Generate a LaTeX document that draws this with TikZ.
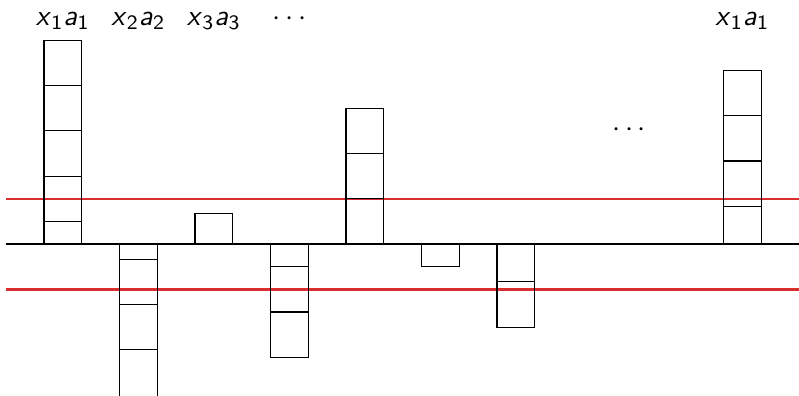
\documentclass[tikz,border=0pt]{standalone}
\usepackage{tikz}
\usetikzlibrary{positioning}
\definecolor{darkred}{RGB}{218,45,45}
\newcommand{\xa}[1]{\textit{x}\textsubscript{#1}\textit{a}\textsubscript{#1}}

\begin{document}
\begin{tikzpicture}[x=1cm, y=0.6cm,
    cell/.style={draw=black, line width=0.4pt},
    axis/.style={draw=black, line width=0.8pt},
    level/.style={draw=darkred, line width=0.9pt},
    lbl/.style={anchor=base, font=\sffamily\fontsize{11}{13}\selectfont, inner sep=0pt}
  ]
  \useasboundingbox (0,-3.333) rectangle (10.583,5.387);

  % thresholds
  \coordinate (upL) at (0.08,1);
  \coordinate (upR) at (10.7,1);
  \coordinate (loL) at (0.08,-1);
  \coordinate (loR) at (10.7,-1);
  \draw[level] (upL) -- (upR);
  \draw[level] (loL) -- (loR);

  % stacks
  \draw[cell] (0.583,0) rectangle (1.083,4.5);
  \foreach \y in {0.5,1.5,2.5,3.5} \draw[cell] (0.583,\y) -- (1.083,\y);

  \draw[cell] (1.583,0) rectangle (2.083,-3.6);
  \foreach \y in {-0.333,-1.333,-2.333} \draw[cell] (1.583,\y) -- (2.083,\y);

  \draw[cell] (2.583,0) rectangle (3.083,0.667);

  \draw[cell] (3.583,0) rectangle (4.083,-2.5);
  \foreach \y in {-0.5,-1.5} \draw[cell] (3.583,\y) -- (4.083,\y);

  \draw[cell] (4.583,0) rectangle (5.083,3);
  \foreach \y in {1,2} \draw[cell] (4.583,\y) -- (5.083,\y);

  \draw[cell] (5.583,0) rectangle (6.083,-0.5);

  \draw[cell] (6.583,0) rectangle (7.083,-1.833);
  \draw[cell] (6.583,-0.833) -- (7.083,-0.833);

  \draw[cell] (9.583,0) rectangle (10.083,3.833);
  \foreach \y in {0.833,1.833,2.833} \draw[cell] (9.583,\y) -- (10.083,\y);

  % zero line
  \coordinate (zL) at (0.08,0);
  \coordinate (zR) at (10.7,0);
  \draw[axis] (zL) -- (zR);

  % labels
  \node[lbl] (l1) at (0.833,4.83) {\xa{1}};
  \node[lbl] (l2) at (1.833,4.83) {\xa{2}};
  \node[lbl] (l3) at (2.833,4.83) {\xa{3}};
  \node[lbl] (ldots) at (3.833,4.83) {$\cdots$};
  \node[lbl] (ln) at (9.833,4.83) {\xa{1}};
  \node[lbl] (mdots) at (8.333,2.37) {$\cdots$};
\end{tikzpicture}
\end{document}
